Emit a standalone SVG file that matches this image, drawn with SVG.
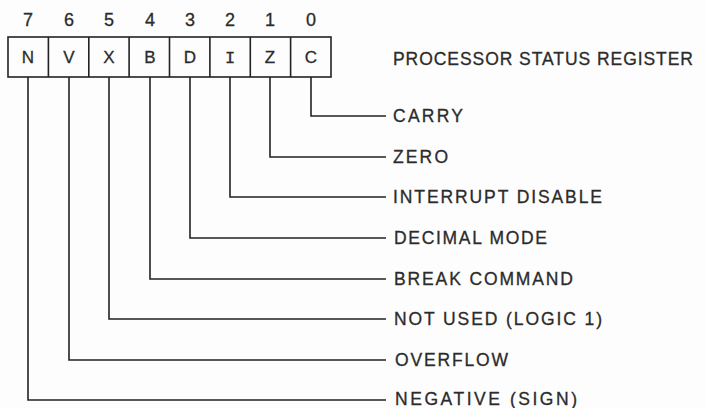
<svg xmlns="http://www.w3.org/2000/svg" width="705" height="408" viewBox="0 0 705 408">
<style>
.txt{font-family:"Liberation Sans",Arial,sans-serif;fill:#2b2b2b;stroke:#2b2b2b;stroke-width:0.3}
.lbl{font-size:17.5px}
.bit{font-size:18px;text-anchor:middle}
.cell{font-size:17px;text-anchor:middle}
.mono{font-family:"Liberation Mono","Courier New",monospace}
.box{fill:none;stroke:#222;stroke-width:1.6}
.conn{fill:none;stroke:#222;stroke-width:1.6}
</style>
<rect width="705" height="408" fill="#fdfdfd"/>
<g id="register">
<rect class="box" x="8" y="37" width="323" height="40"/>
<path class="box" d="M48.4 37V77M88.8 37V77M129.1 37V77M169.5 37V77M209.9 37V77M250.3 37V77M290.6 37V77"/>
<g class="txt bit">
<text x="28" y="26">7</text><text x="69" y="26">6</text><text x="109" y="26">5</text><text x="150" y="26">4</text>
<text x="190" y="26">3</text><text x="230" y="26">2</text><text x="270" y="26">1</text><text x="311" y="26">0</text>
</g>
<g class="txt cell">
<text x="28" y="63">N</text><text x="69" y="63">V</text><text x="109" y="63">X</text><text x="150" y="63">B</text>
<text x="190" y="63">D</text><text class="mono" x="230" y="63">I</text><text x="270" y="63">Z</text><text x="311" y="63">C</text>
</g>
<text class="txt lbl" x="393" y="65" textLength="300" lengthAdjust="spacing">PROCESSOR STATUS REGISTER</text>
</g>
<g id="connectors">
<path class="conn" d="M311 77V116H386"/>
<path class="conn" d="M270 77V157H386"/>
<path class="conn" d="M230 77V197H386"/>
<path class="conn" d="M190 77V238H386"/>
<path class="conn" d="M150 77V279H386"/>
<path class="conn" d="M109 77V319H386"/>
<path class="conn" d="M69 77V360H386"/>
<path class="conn" d="M28 77V400H386"/>
</g>
<g id="labels" class="txt lbl">
<text id="carry" x="393" y="122" textLength="70" lengthAdjust="spacing">CARRY</text>
<text id="zero" x="393" y="163" textLength="55" lengthAdjust="spacing">ZERO</text>
<text id="irq" x="393" y="203" textLength="209" lengthAdjust="spacing">INTERRUPT DISABLE</text>
<text id="dec" x="394" y="244" textLength="153" lengthAdjust="spacing">DECIMAL MODE</text>
<text id="brk" x="394" y="285" textLength="179" lengthAdjust="spacing">BREAK COMMAND</text>
<text id="unused" x="394" y="325" textLength="208" lengthAdjust="spacing">NOT USED (LOGIC 1)</text>
<text id="ovf" x="395" y="366" textLength="113" lengthAdjust="spacing">OVERFLOW</text>
<text id="neg" x="395" y="405" textLength="182" lengthAdjust="spacing">NEGATIVE (SIGN)</text>
</g>
</svg>
